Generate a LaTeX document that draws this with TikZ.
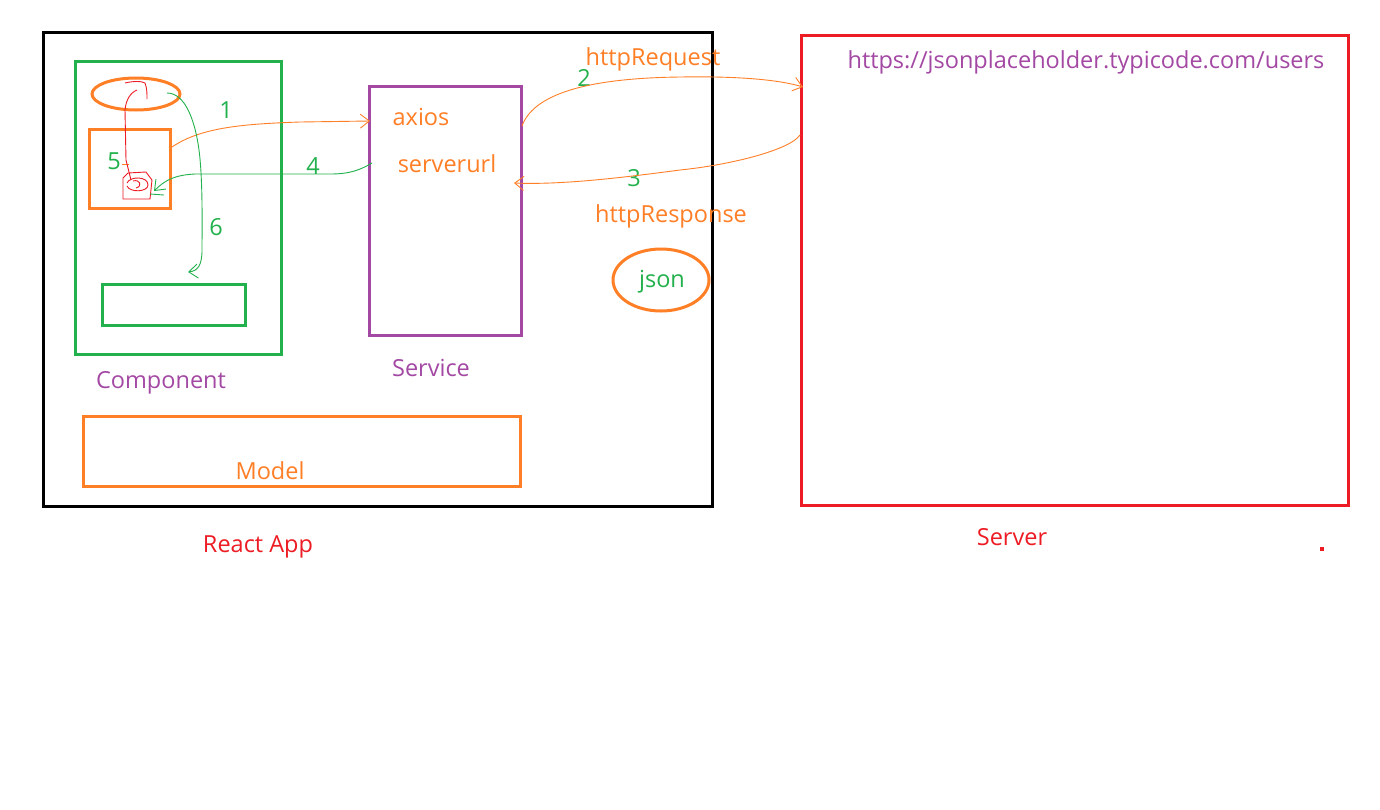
\documentclass[tikz,border=0pt]{standalone}
\usepackage{fontspec}
\setmainfont{Open Sans}
\usetikzlibrary{arrows.meta,shapes.geometric}
\definecolor{cgreen}{RGB}{34,177,76}
\definecolor{corange}{RGB}{255,127,39}
\definecolor{cpurple}{RGB}{163,73,164}
\definecolor{cred}{RGB}{237,28,36}
\begin{document}
\begin{tikzpicture}[x=1pt,y=-1pt,
  box/.style={draw,line width=3pt,inner sep=0pt,rectangle},
  oval/.style={draw,line width=3pt,inner sep=0pt,ellipse},
  lbl/.style={font=\fontsize{23.5}{28}\selectfont,inner sep=0pt,yshift=-2.5pt},
  num/.style={lbl,text=cgreen},
  arr/.style={line width=0.9pt,-{Straight Barb[length=9pt,width=14pt,line width=0.9pt]}}]
\useasboundingbox[fill=white] (0,0) rectangle (1380,809);
% boxes
\node[box,draw=black,minimum width=669,minimum height=474] (app) at (377.5,269) {};
\node[box,draw=cgreen,minimum width=206,minimum height=293] (comp) at (178,207.5) {};
\node[oval,draw=corange,minimum width=88,minimum height=32] (tmpl) at (136,94) {};
\node[box,draw=corange,minimum width=81,minimum height=79] (cls) at (129.5,168.5) {};
\node[box,draw=cgreen,minimum width=143,minimum height=41] (css) at (173.5,304.5) {};
\node[box,draw=cpurple,minimum width=152,minimum height=249] (svc) at (445,210.5) {};
\node[box,draw=corange,minimum width=437,minimum height=70] (model) at (301.5,451) {};
\node[box,draw=cred,minimum width=547,minimum height=470] (server) at (1074.5,270) {};
\node[oval,draw=corange,minimum width=96,minimum height=62] (json) at (661,280) {};
% texts
\node[lbl,text=cpurple] (tcomp) at (161,380) {Component};
\node[lbl,text=cpurple] (tsvc) at (431,365) {Service};
\node[lbl,text=corange] (tmodel) at (270,468) {Model};
\node[lbl,text=cred] (tapp) at (258,544) {React App};
\node[lbl,text=cred] (tserver) at (1012,535) {Server};
\node[lbl,text=corange] (taxios) at (421,114) {axios};
\node[lbl,text=corange] (turl) at (447,161) {serverurl};
\node[lbl,text=corange] (treq) at (653,57) {httpRequest};
\node[lbl,text=corange] (tres) at (671,214) {httpResponse};
\node[lbl,text=cgreen] (tjson) at (662,279) {json};
\node[lbl,text=cpurple] (tusers) at (1086,60) {https://jsonplaceholder.typicode.com/users};
\node[num] (n1) at (226,108) {1};
\node[num] (n2) at (584,75) {2};
\node[num] (n3) at (634,176) {3};
\node[num] (n4) at (313,164) {4};
\node[num] (n5) at (114,159) {5};
\node[num] (n6) at (216,225) {6};
\node[fill=cred,minimum size=4,inner sep=0pt] (dot) at (1322,549) {};
% red scribble (data variable)
\draw[cred,line width=0.9pt] (123,178) -- (123,199) -- (150,199) -- (152,180) -- (146,172) -- (128,173) -- cycle;
\draw[cred,line width=0.9pt] (127,183) .. controls (130,176) and (148,176) .. (148,185) .. controls (148,192) and (130,193) .. (127,186);
\draw[cred,line width=0.9pt] (133,181) .. controls (140,179) and (143,186) .. (136,188);
\draw[cgreen,line width=0.9pt] (150,194) -- (164,195);
\draw[corange,line width=0.9pt] (122,164) -- (129,164);
% connectors
\coordinate (a1s) at (172,147);
\coordinate (a1e) at (370,121);
\draw[arr,corange] (a1s) .. controls (200,128) and (240,124) .. (300,122) -- (a1e);
\coordinate (a2s) at (522,126);
\coordinate (a2e) at (803,87);
\draw[arr,corange] (a2s) .. controls (535,90) and (600,78) .. (680,77) .. controls (740,76) and (780,80) .. (a2e);
\coordinate (a3s) at (800,135);
\coordinate (a3e) at (514,183);
\draw[arr,corange] (a3s) .. controls (790,150) and (730,165) .. (680,170) .. controls (620,178) and (560,185) .. (a3e);
\coordinate (a4s) at (372,163);
\coordinate (a4e) at (154,191);
\draw[arr,cgreen] (a4s) .. controls (360,170) and (350,174) .. (330,174) -- (195,174) .. controls (175,175) and (165,180) .. (a4e);
\coordinate (a6s) at (167,93);
\coordinate (a6e) at (188,272);
\draw[arr,cgreen] (a6s) .. controls (185,93) and (195,120) .. (199,150) .. controls (203,180) and (202,230) .. (202,250) .. controls (202,265) and (198,271) .. (a6e);
\coordinate (a5s) at (131,180);
\draw[cred,line width=0.9pt] (a5s) -- (126,160) -- (125,110) .. controls (126,100) and (130,93) .. (137,90);
\draw[cred,line width=0.9pt] (125,83) .. controls (133,81) and (142,81) .. (145,83) .. controls (147,88) and (147,93) .. (147,99);
\end{tikzpicture}
\end{document}
